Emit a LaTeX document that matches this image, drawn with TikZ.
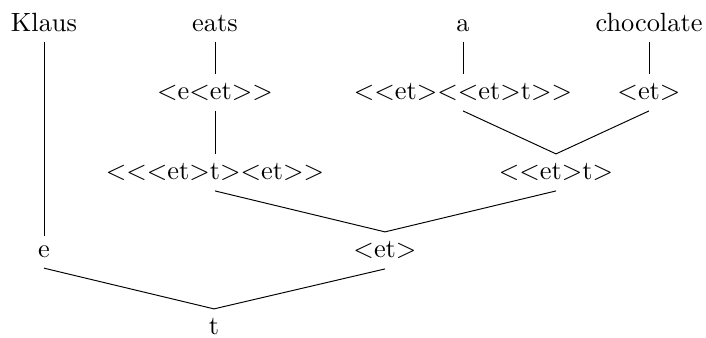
\documentclass[tikz,border=0pt]{standalone}
% angle brackets with a kern so that << and >> do not ligate
\newcommand\lA{<\kern0pt}
\newcommand\rA{>\kern0pt}
\begin{document}
\begin{tikzpicture}[x=0.415pt, y=-0.415pt,
  typ/.style={anchor=base, inner xsep=1pt, inner ysep=3.9pt,
    font=\fontsize{10.95}{13}\selectfont},
  edge/.style={line width=0.4pt}]
\useasboundingbox (0,0) rectangle (706,338);
% words
\node[typ] (klaus) at (44,32) {Klaus};
\node[typ] (eats) at (215,32) {eats};
\node[typ] (a) at (463,32) {a};
\node[typ] (choc) at (649,32) {chocolate};
% lexical types
\node[typ] (eet) at (215,100) {\lA e\lA et\rA\rA};
\node[typ] (det) at (463,100) {\lA\lA et\rA\lA\lA et\rA t\rA\rA};
\node[typ] (noun) at (649,100) {\lA et\rA};
% shifted verb and object
\node[typ] (verb) at (215,180) {\lA\lA\lA et\rA t\rA\lA et\rA\rA};
\node[typ] (obj) at (556,180) {\lA\lA et\rA t\rA};
% subject and VP
\node[typ] (subj) at (44,258) {e};
\node[typ] (vp) at (385,258) {\lA et\rA};
% sentence
\node[typ] (s) at (214,335) {t};
% connectors
\draw[edge] (eats.south) -- (eet.north);
\draw[edge] (a.south) -- (det.north);
\draw[edge] (choc.south) -- (noun.north);
\draw[edge] (eet.south) -- (verb.north);
\draw[edge] (det.south) -- (obj.north);
\draw[edge] (noun.south) -- (obj.north);
\draw[edge] (verb.south) -- (vp.north);
\draw[edge] (obj.south) -- (vp.north);
\draw[edge] (klaus.south) -- (subj.north);
\draw[edge] (subj.south) -- (s.north);
\draw[edge] (vp.south) -- (s.north);
\end{tikzpicture}
\end{document}
